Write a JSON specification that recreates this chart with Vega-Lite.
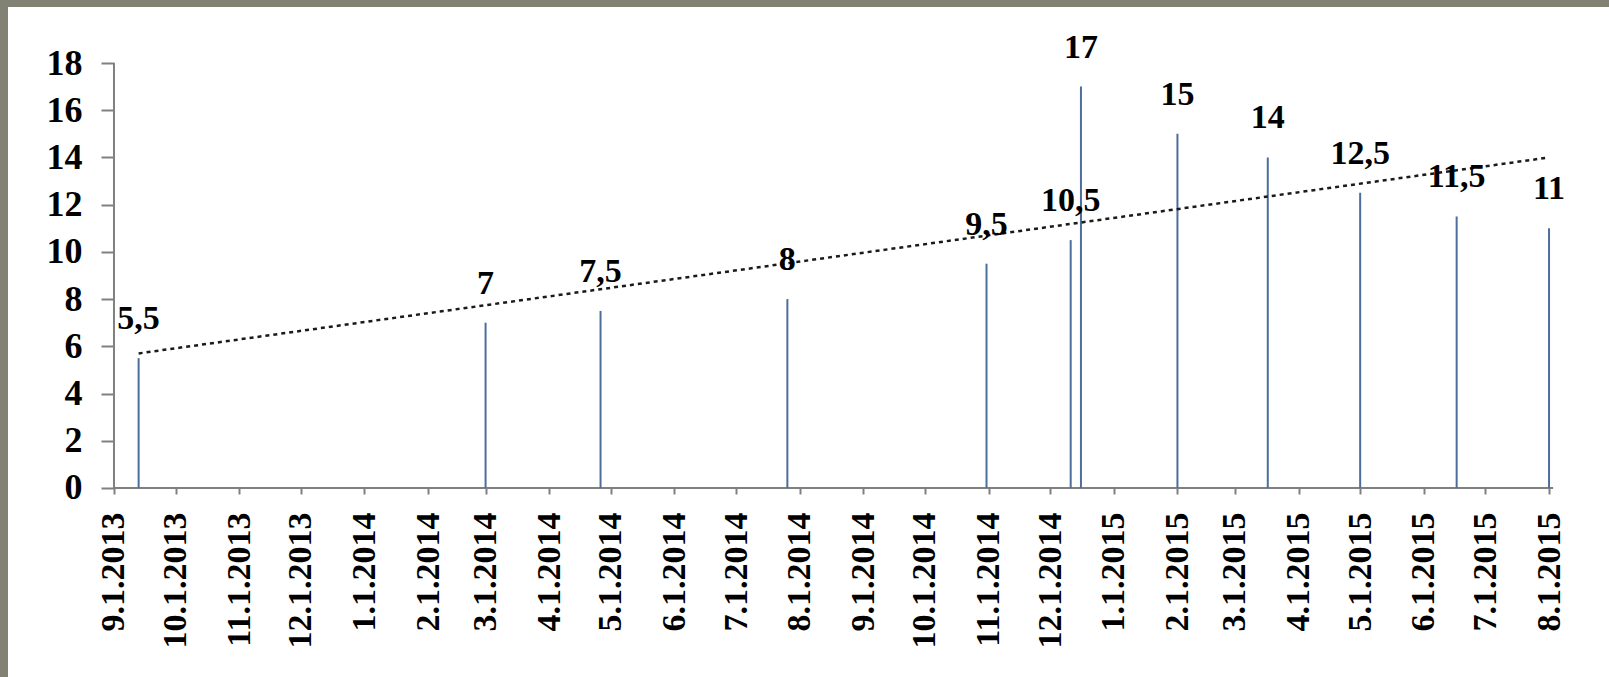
{
  "$schema": "https://vega.github.io/schema/vega-lite/v6.json",
  "autosize": "none",
  "width": 1601,
  "height": 670,
  "padding": {"left": 8, "top": 7, "right": 0, "bottom": 0},
  "background": "#818274",
  "config": {"view": {"fill": "#ffffff", "stroke": null}},
  "datasets": {
    "bars": [
      {"date": "2013-09-13", "value": 5.5, "label": "5,5"},
      {"date": "2014-03-01", "value": 7, "label": "7"},
      {"date": "2014-04-26", "value": 7.5, "label": "7,5"},
      {"date": "2014-07-26", "value": 8, "label": "8"},
      {"date": "2014-10-31", "value": 9.5, "label": "9,5"},
      {"date": "2014-12-11", "value": 10.5, "label": "10,5"},
      {"date": "2014-12-16", "value": 17, "label": "17"},
      {"date": "2015-02-01", "value": 15, "label": "15"},
      {"date": "2015-03-17", "value": 14, "label": "14"},
      {"date": "2015-05-01", "value": 12.5, "label": "12,5"},
      {"date": "2015-06-17", "value": 11.5, "label": "11,5"},
      {"date": "2015-08-01", "value": 11, "label": "11"}
    ],
    "trend": [
      {"date": "2013-09-13", "value": 5.7},
      {"date": "2015-08-01", "value": 14.0}
    ],
    "axislines": [
      {"date": "2013-09-01", "date2": "2015-08-03", "value": 0, "value2": 0},
      {"date": "2013-09-01", "date2": "2013-09-01", "value": 0, "value2": 18}
    ]
  },
  "encoding": {
    "x": {
      "field": "date",
      "type": "temporal",
      "scale": {
        "type": "utc",
        "nice": false,
        "domain": [
          {"year": 2013, "month": 7, "date": 11, "hours": 9, "utc": true},
          {"year": 2015, "month": 8, "date": 30, "hours": 5, "utc": true}
        ]
      },
      "axis": {
        "title": null,
        "orient": "bottom",
        "offset": -189,
        "domain": false,
        "grid": false,
        "values": [
          {"year": 2013, "month": 9, "date": 1, "utc": true},
          {"year": 2013, "month": 10, "date": 1, "utc": true},
          {"year": 2013, "month": 11, "date": 1, "utc": true},
          {"year": 2013, "month": 12, "date": 1, "utc": true},
          {"year": 2014, "month": 1, "date": 1, "utc": true},
          {"year": 2014, "month": 2, "date": 1, "utc": true},
          {"year": 2014, "month": 3, "date": 1, "utc": true},
          {"year": 2014, "month": 4, "date": 1, "utc": true},
          {"year": 2014, "month": 5, "date": 1, "utc": true},
          {"year": 2014, "month": 6, "date": 1, "utc": true},
          {"year": 2014, "month": 7, "date": 1, "utc": true},
          {"year": 2014, "month": 8, "date": 1, "utc": true},
          {"year": 2014, "month": 9, "date": 1, "utc": true},
          {"year": 2014, "month": 10, "date": 1, "utc": true},
          {"year": 2014, "month": 11, "date": 1, "utc": true},
          {"year": 2014, "month": 12, "date": 1, "utc": true},
          {"year": 2015, "month": 1, "date": 1, "utc": true},
          {"year": 2015, "month": 2, "date": 1, "utc": true},
          {"year": 2015, "month": 3, "date": 1, "utc": true},
          {"year": 2015, "month": 4, "date": 1, "utc": true},
          {"year": 2015, "month": 5, "date": 1, "utc": true},
          {"year": 2015, "month": 6, "date": 1, "utc": true},
          {"year": 2015, "month": 7, "date": 1, "utc": true},
          {"year": 2015, "month": 8, "date": 1, "utc": true}
        ],
        "format": "%-m.%-d.%Y",
        "labelAngle": -90,
        "labelFont": "Liberation Serif",
        "labelFontWeight": "bold",
        "labelFontSize": 34,
        "labelColor": "#000000",
        "labelPadding": 18,
        "labelOverlap": false,
        "labelFlush": false,
        "labelBound": false,
        "tickSize": 6,
        "tickColor": "#808080",
        "tickWidth": 2
      }
    },
    "y": {
      "field": "value",
      "type": "quantitative",
      "scale": {"domain": [-8.005, 20.372], "nice": false, "zero": false},
      "axis": {
        "title": null,
        "orient": "left",
        "offset": -106,
        "domain": false,
        "grid": false,
        "values": [0, 2, 4, 6, 8, 10, 12, 14, 16, 18],
        "labelFont": "Liberation Serif",
        "labelFontWeight": "bold",
        "labelFontSize": 36,
        "labelColor": "#000000",
        "labelPadding": 19,
        "labelFlush": false,
        "labelBound": false,
        "tickSize": 13,
        "tickColor": "#808080",
        "tickWidth": 2
      }
    }
  },
  "layer": [
    {
      "data": {"name": "axislines"},
      "mark": {"type": "rule", "color": "#808080", "strokeWidth": 2},
      "encoding": {"x2": {"field": "date2"}, "y2": {"field": "value2"}}
    },
    {
      "data": {"name": "bars"},
      "mark": {"type": "rule", "color": "#4d6d9d", "strokeWidth": 2},
      "encoding": {"y2": {"datum": 0}}
    },
    {
      "data": {"name": "trend"},
      "mark": {"type": "line", "color": "#1a1a1a", "strokeWidth": 2.5, "strokeDash": [4, 4]},
      "encoding": {}
    },
    {
      "data": {"name": "bars"},
      "mark": {
        "type": "text",
        "font": "Liberation Serif",
        "fontWeight": "bold",
        "fontSize": 34,
        "color": "#000000",
        "align": "center",
        "baseline": "alphabetic",
        "dy": -29
      },
      "encoding": {"text": {"field": "label"}}
    }
  ]
}
